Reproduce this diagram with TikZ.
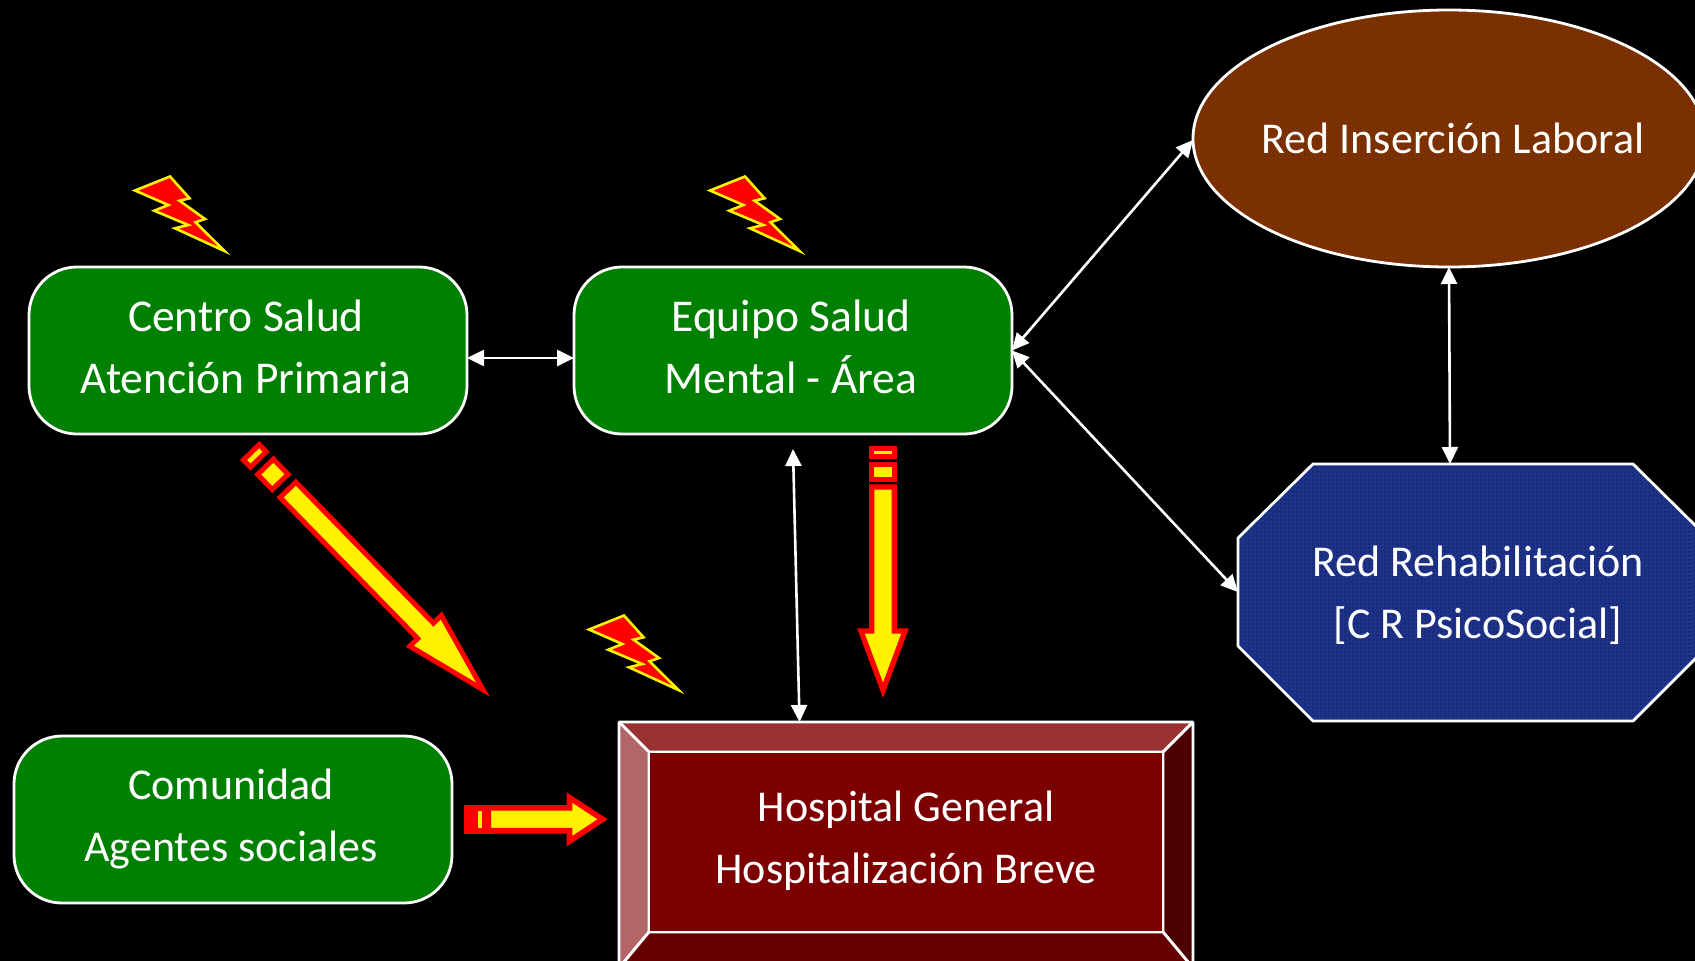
\documentclass[tikz,border=0pt]{standalone}
\usepackage{fontspec}
\setmainfont{Carlito}
\usetikzlibrary{arrows.meta,shapes.geometric,calc,patterns}
\pgfdeclarepatternformonly{chk}{\pgfpointorigin}{\pgfqpoint{4pt}{4pt}}{\pgfqpoint{4pt}{4pt}}{%
  \pgfpathrectangle{\pgfpointorigin}{\pgfqpoint{2pt}{2pt}}%
  \pgfpathrectangle{\pgfqpoint{2pt}{2pt}}{\pgfqpoint{2pt}{2pt}}%
  \pgfusepath{fill}}
\definecolor{gbox}{HTML}{008000}
\definecolor{hmain}{HTML}{7D0000}
\definecolor{htop}{HTML}{993333}
\definecolor{hleft}{HTML}{B26666}
\definecolor{hright}{HTML}{4D0000}
\definecolor{hbot}{HTML}{660000}
\definecolor{brownf}{HTML}{803300}
\definecolor{brownd}{HTML}{702C00}
\definecolor{bluef}{HTML}{1F3590}
\definecolor{blued}{HTML}{17266A}
\tikzset{
  edge/.style={draw=white,line width=2.8pt,line join=bevel},
  roundbox/.style={draw=white,line width=2.8pt,fill=gbox,rounded corners=48pt,minimum width=438pt,minimum height=167pt,inner sep=0pt,outer sep=0pt},
  txt/.style={text=white,font=\fontsize{45.5}{62}\selectfont,align=center,inner sep=0pt},
  txtb/.style={text=white,font=\fontsize{44}{62}\selectfont,align=center,inner sep=0pt},
  link/.style={draw=white,line width=2.6pt,{Triangle[length=17pt,width=16pt]}-{Triangle[length=17pt,width=16pt]},shorten <=0pt,shorten >=0pt},
  bolt/.style={fill=red,draw=yellow,line width=2.6pt,miter limit=10},
  blocky/.style={fill=yellow,draw=red,line join=miter,miter limit=10},
}
\newcommand{\boltshape}[2]{%
  \draw[bolt,shift={(#1,#2)}] (135,190.5)--(170,176.5)--(189.5,198.3)--(179.5,200.7)--(205,219)--(195.5,222.3)--(224.5,251)--(175,228.3)--(188.3,225)--(154.3,210.7)--(168.3,205)--cycle;}
\newcommand{\segarrow}[9]{%
  \begin{scope}[shift={(#1,#2)},rotate=#3,line width=#4pt]
    \draw[blocky] (#5) rectangle (#6);
    \draw[blocky] (#7) rectangle (#8);
    #9
  \end{scope}}
\begin{document}
\begin{tikzpicture}[x=1pt,y=-1pt]
\useasboundingbox (0,0) rectangle (1695,961);
\clip (0,0) rectangle (1695,961);
\fill[black] (0,0) rectangle (1695,961);

% green boxes
\node[roundbox] (centro) at (248,350.5) {};
\node[roundbox] (equipo) at (793,350.5) {};
\node[roundbox] (comunidad) at (233,819.5) {};
\node[txt] (centroT) at (246,347) {Centro Salud\\Atención Primaria};
\node[txt] (equipoT) at (791,347) {Equipo Salud\\Mental - Área};
\node[txtb] (comunidadT) at (231,819) {Comunidad\\Agentes sociales};

% ellipse
\node[ellipse,fill=brownf,postaction={pattern=chk,pattern color=brownd},postaction={draw=white,line width=2.8pt},minimum width=512pt,minimum height=257pt,inner sep=0pt,outer sep=0pt] (red) at (1449,138.5) {};
\node[txtb] (redT) at (1453,138) {Red Inserción Laboral};

% octagon
\coordinate (octoW) at (1238,592);
\coordinate (octoN) at (1450,464);
\path[fill=bluef,postaction={pattern=chk,pattern color=blued},postaction={edge}] (1238,538)--(1313,464)--(1633,464)--(1708,538)--(1708,646)--(1633,721)--(1313,721)--(1238,646)--cycle;
\node[txtb] (octoT) at (1478,595) {Red Rehabilitación\\{[C R PsicoSocial]}};

% hospital
\coordinate (oa) at (619,722); \coordinate (ob) at (1193,722);
\coordinate (oc) at (1193,968); \coordinate (od) at (619,968);
\coordinate (ia) at (649,752); \coordinate (ib) at (1163,752);
\coordinate (ic) at (1163,932); \coordinate (id) at (649,932);
\draw[edge,fill=htop] (oa)--(ob)--(ib)--(ia)--cycle;
\draw[edge,fill=hleft] (oa)--(ia)--(id)--(od)--cycle;
\draw[edge,fill=hright] (ob)--(oc)--(ic)--(ib)--cycle;
\draw[edge,fill=hbot] (od)--(id)--(ic)--(oc)--cycle;
\node[rectangle,draw=white,line width=2.8pt,fill=hmain,minimum width=514pt,minimum height=180pt,inner sep=0pt] (hospital) at (906,842) {};
\node[txtb] (hospitalT) at (906,841) {Hospital General\\Hospitalización Breve};

% connectors
\coordinate (equipoFree) at (793,449);
\coordinate (hospitalN) at ($(oa)!0.3145!(ob)$);
\draw[link] ([yshift=-7.5pt]centro.east)--([yshift=-7.5pt]equipo.west);
\draw[link] (equipo.east)--([yshift=-1.5pt]red.west);
\draw[link] (equipo.east)--(octoW);
\draw[link] (red.south)--(octoN);
\draw[link] (equipoFree)--(hospitalN);

% bolts
\boltshape{0}{0}
\boltshape{575}{0}
\boltshape{454}{439}

% diagonal block arrow
\segarrow{249.6}{450.5}{-45.7}{5}{2.5,-11}{12.5,11}{22.8,-11}{43.8,11}{%
  \draw[blocky] (54.9,-11)--(252,-11)--(252,-22)--(334.3,0)--(252,22)--(252,11)--(54.9,11)--cycle;}
% vertical block arrow
\segarrow{883}{446}{-90}{5.3}{2.7,-11.3}{10.6,11.3}{18.4,-11.3}{33.6,11.3}{%
  \draw[blocky] (41,-11.3)--(185,-11.3)--(185,-22.1)--(244.3,0)--(185,22.1)--(185,11.3)--(41,11.3)--cycle;}
% horizontal block arrow
\begin{scope}[shift={(464.3,819.3)},line width=5.6pt]
  \fill[red] (0,-14.2) rectangle (30,14.2);
  \fill[yellow] (14,-8.8) rectangle (17.4,8.8);
  \draw[blocky] (24,-11.4)--(105.2,-11.4)--(105.2,-21.8)--(138.3,0)--(105.2,21.8)--(105.2,11.4)--(24,11.4)--cycle;
\end{scope}
\end{tikzpicture}
\end{document}
